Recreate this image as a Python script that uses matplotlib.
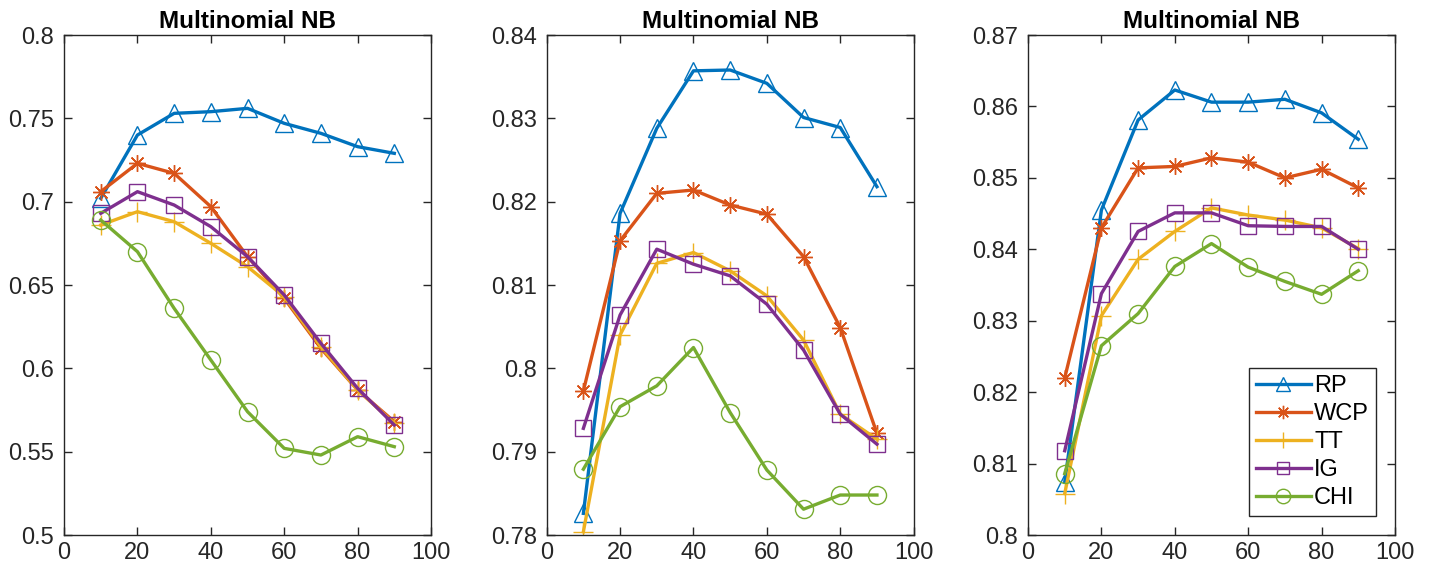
import numpy as np
import matplotlib
matplotlib.use('Agg')
import matplotlib.pyplot as plt

plt.rcParams['font.family'] = ['Liberation Sans', 'DejaVu Sans']

# porcentaje de atributos seleccionados
pct = [10, 20, 30, 40, 50, 60, 70, 80, 90]
metodos = ['RP', 'WCP', 'TT', 'IG', 'CHI']

# panel 1
p1_rp = [0.702, 0.740, 0.753, 0.754, 0.756, 0.747, 0.741, 0.733, 0.729]
p1_wcp = [0.706, 0.723, 0.717, 0.697, 0.667, 0.642, 0.612, 0.587, 0.568]
p1_tt = [0.686, 0.694, 0.688, 0.675, 0.661, 0.643, 0.613, 0.587, 0.567]
p1_ig = [0.693, 0.706, 0.698, 0.685, 0.667, 0.644, 0.615, 0.588, 0.566]
p1_chi = [0.689, 0.670, 0.636, 0.605, 0.574, 0.552, 0.548, 0.559, 0.553]

# panel 2
p2_rp = [0.7826, 0.8186, 0.8288, 0.8357, 0.8358, 0.8342, 0.8301, 0.8289, 0.8218]
p2_wcp = [0.7973, 0.8153, 0.8210, 0.8214, 0.8196, 0.8185, 0.8134, 0.8049, 0.7922]
p2_tt = [0.7804, 0.8040, 0.8126, 0.8139, 0.8117, 0.8087, 0.8034, 0.7945, 0.7915]
p2_ig = [0.7928, 0.8064, 0.8143, 0.8125, 0.8111, 0.8077, 0.8022, 0.7945, 0.7909]
p2_chi = [0.7879, 0.7954, 0.7979, 0.8025, 0.7947, 0.7878, 0.7831, 0.7848, 0.7848]

# panel 3
p3_rp = [0.8074, 0.8455, 0.8581, 0.8623, 0.8606, 0.8606, 0.8610, 0.8591, 0.8554]
p3_wcp = [0.8220, 0.8430, 0.8514, 0.8516, 0.8528, 0.8522, 0.8500, 0.8512, 0.8486]
p3_tt = [0.8058, 0.8307, 0.8386, 0.8425, 0.8458, 0.8448, 0.8441, 0.8430, 0.8401]
p3_ig = [0.8118, 0.8338, 0.8425, 0.8451, 0.8451, 0.8433, 0.8432, 0.8432, 0.8400]
p3_chi = [0.8086, 0.8265, 0.8310, 0.8376, 0.8408, 0.8375, 0.8355, 0.8337, 0.8370]

paneles = [
    ([p1_rp, p1_wcp, p1_tt, p1_ig, p1_chi], (0.5, 0.8), np.arange(0.5, 0.801, 0.05)),
    ([p2_rp, p2_wcp, p2_tt, p2_ig, p2_chi], (0.78, 0.84), np.arange(0.78, 0.8401, 0.01)),
    ([p3_rp, p3_wcp, p3_tt, p3_ig, p3_chi], (0.80, 0.87), np.arange(0.80, 0.8701, 0.01)),
]

colores = ['#0072BD', '#D95319', '#EDB120', '#7E2F8E', '#77AC30']
marcadores = ['^', (8, 2, 0), '+', 's', 'o']
tamanos = [13, 12, 14, 11, 13]

fig = plt.figure(figsize=(14.3, 5.71), dpi=100)
izq = [0.0448, 0.3823, 0.7189]

for i, (series, ylim, yticks) in enumerate(paneles):
    ax = fig.add_axes([izq[i], 0.063, 0.2566, 0.8757])
    for s, nombre, c, m, ms in zip(series, metodos, colores, marcadores, tamanos):
        ax.plot(pct, s, color=c, linewidth=2.4, marker=m, markersize=ms,
                markerfacecolor='none', markeredgecolor=c, markeredgewidth=1.0,
                label=nombre)
    ax.set_xlim(0, 100)
    ax.set_ylim(*ylim)
    ax.set_xticks(range(0, 101, 20))
    ax.set_yticks(yticks)
    ax.set_yticklabels([('%.3f' % v).rstrip('0').rstrip('.') for v in yticks])
    ax.tick_params(direction='in', top=True, right=True, length=6, width=1.0,
                   labelsize=17, colors='#262626')
    ax.tick_params(axis='y', pad=7)
    ax.tick_params(axis='x', pad=5)
    for sp in ax.spines.values():
        sp.set_color('#262626')
        sp.set_linewidth(1.0)
    ax.set_title('Multinomial NB', fontsize=17.5, fontweight='bold', pad=5)
    if i == 2:
        leg = ax.legend(loc='lower right', fontsize=17, handlelength=2.3,
                        fancybox=False, framealpha=1, edgecolor='#262626',
                        borderpad=0.3, labelspacing=0.25, handletextpad=0.15,
                        borderaxespad=0.8, markerscale=0.8)
        leg.get_frame().set_linewidth(1.0)

fig.savefig('out.png', dpi=100)
